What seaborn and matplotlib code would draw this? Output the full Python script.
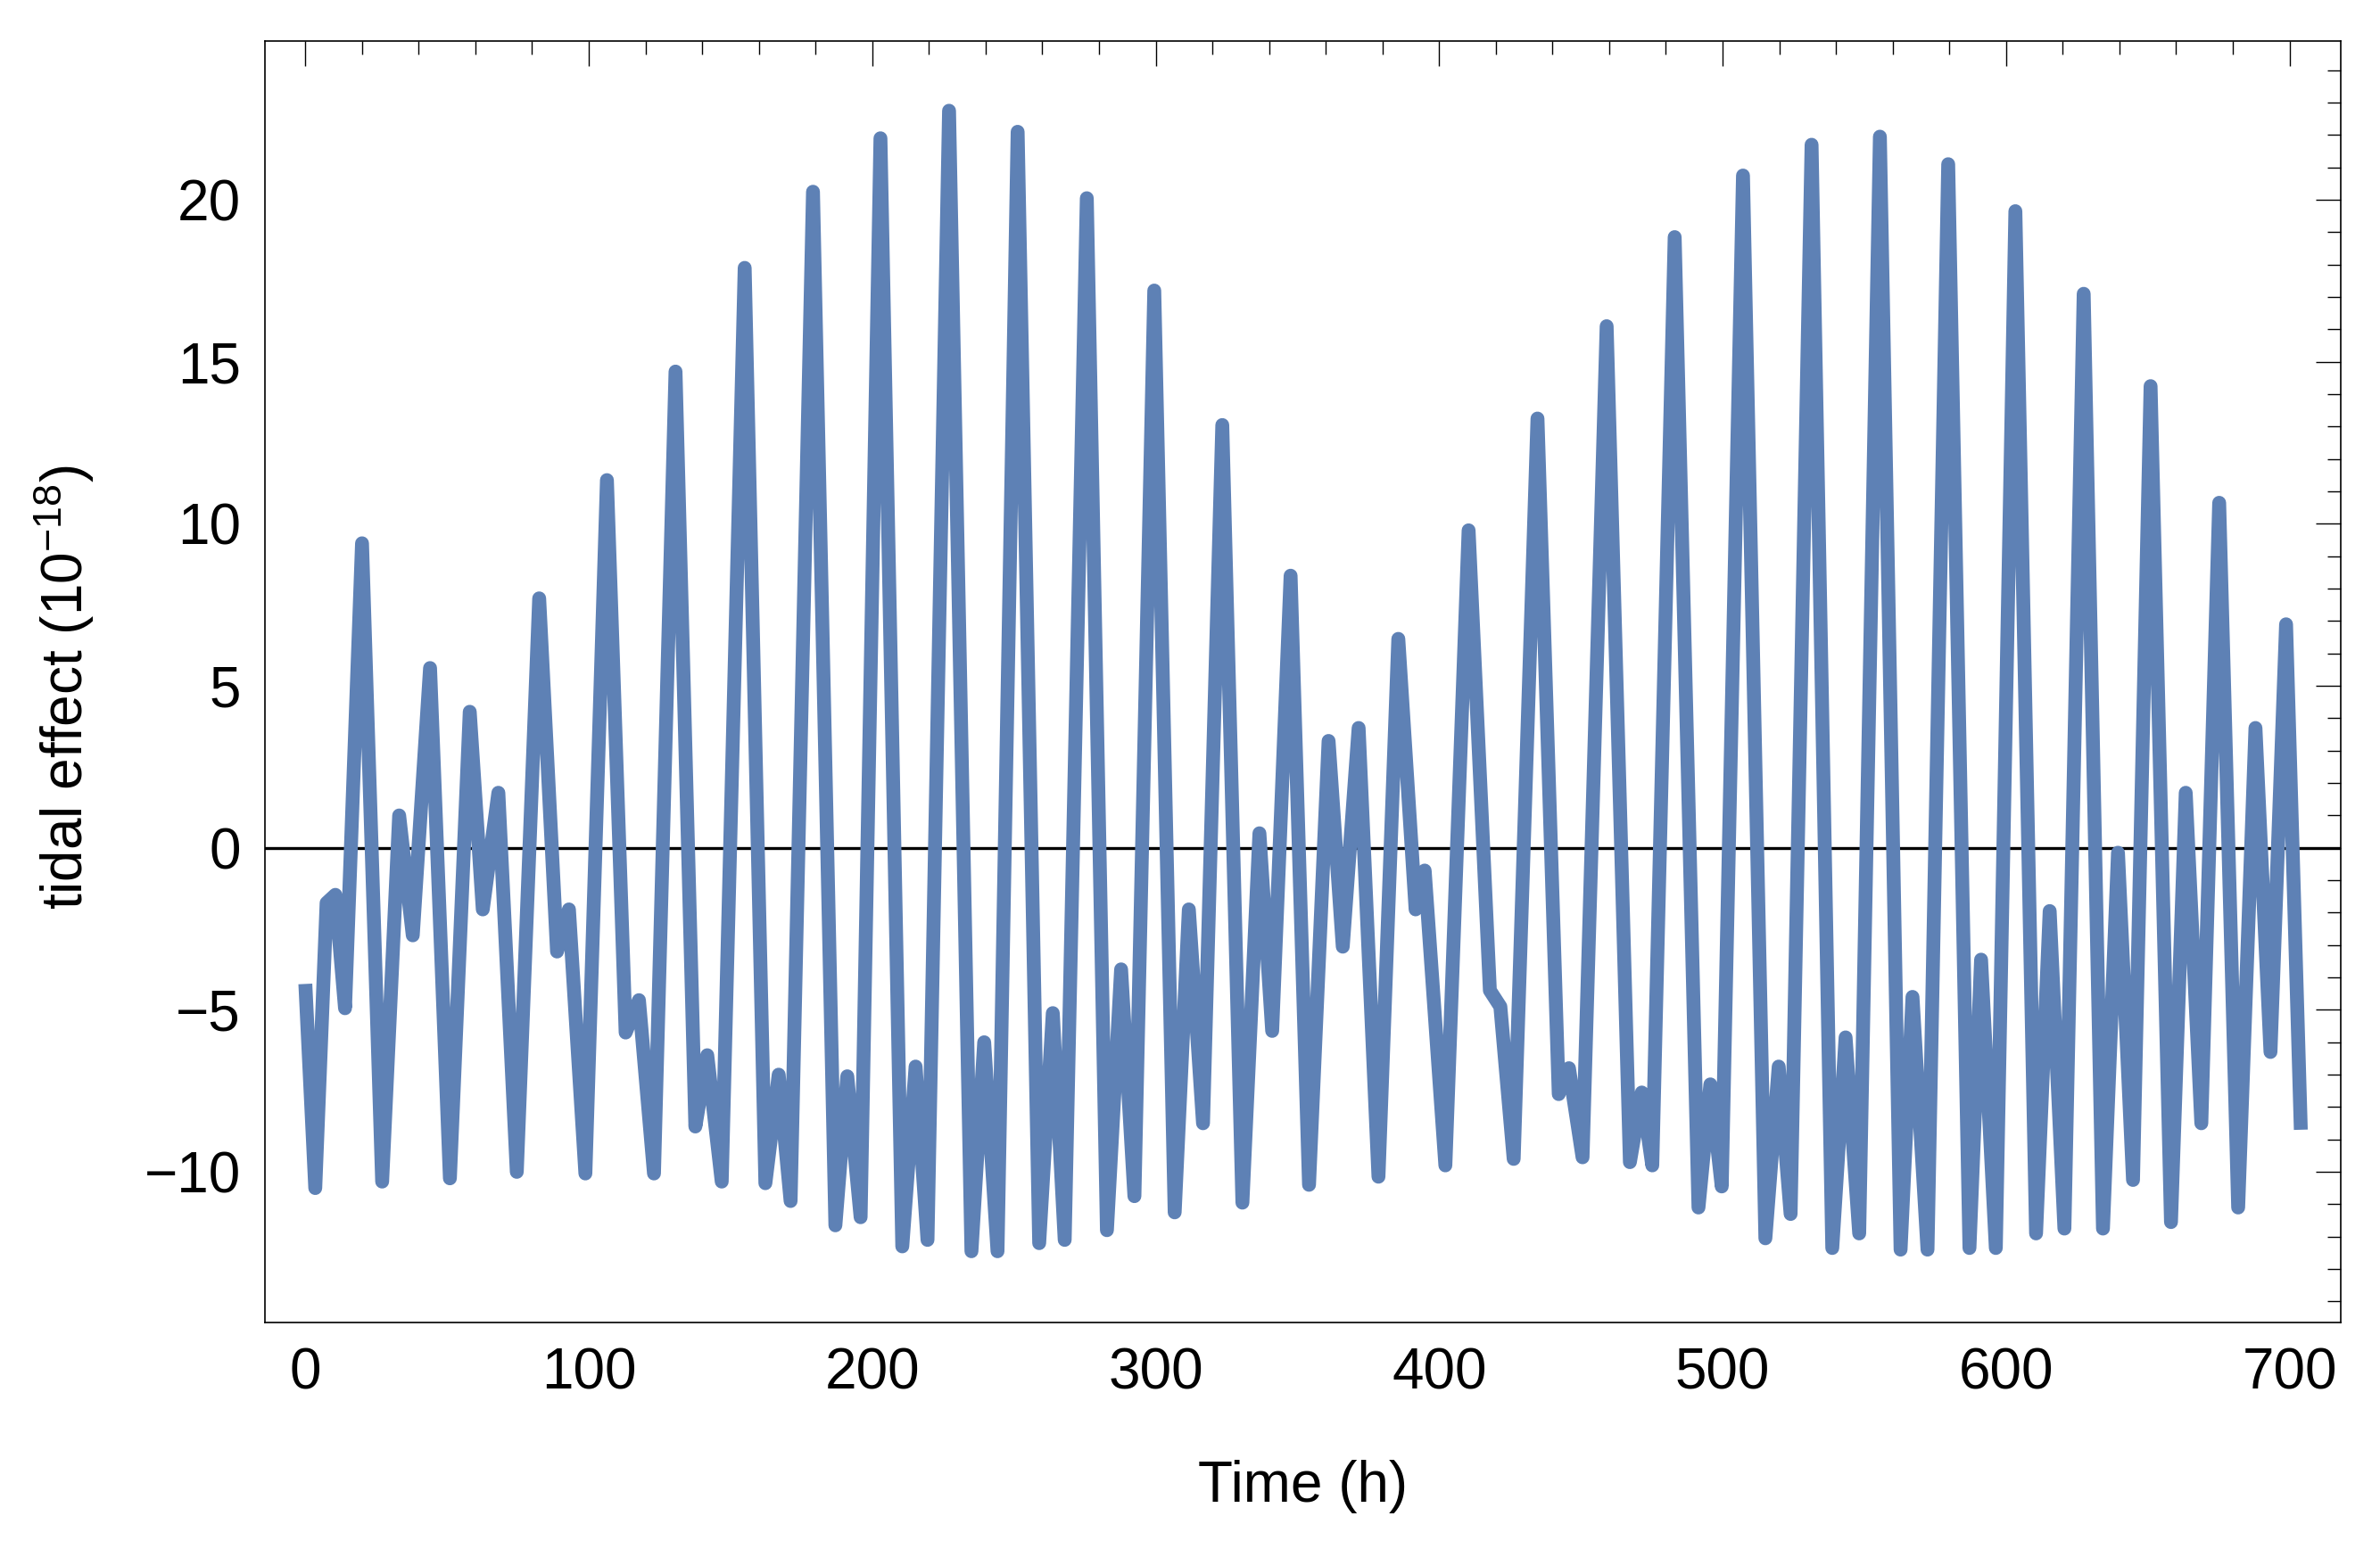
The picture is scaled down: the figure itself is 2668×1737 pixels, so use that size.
import seaborn as sns
import matplotlib.pyplot as plt
import pandas as pd
from matplotlib.ticker import MultipleLocator

# turning points of the curve (hours, 1e-18)
hours = [0.0, 3.5, 7.5, 10.6, 14.0, 20.0, 27.1, 33.1, 37.9, 44.0, 51.0, 58.0, 62.6, 68.1, 74.6, 82.5,
         88.8, 93.0, 98.8, 106.4, 113.0, 117.7, 123.0, 130.6, 137.6, 141.8, 146.9, 155.0, 162.3, 167.0, 171.2,
         179.1, 187.0, 191.2, 195.9, 202.9, 210.6, 215.3, 219.5, 227.1, 235.0, 239.5, 244.2, 251.3, 258.9, 263.7,
         267.9, 275.7, 282.8, 287.8, 292.5, 299.5, 306.7, 311.7, 316.7, 323.5, 330.6, 336.6, 341.1, 347.6, 354.1,
         361.0, 366.0, 371.6, 378.6, 385.6, 391.7, 394.9, 402.2, 410.4, 417.9, 421.6, 426.3, 434.7, 442.2,
         445.8, 450.6, 459.1, 467.3, 471.5, 475.2, 483.1, 491.5, 495.7, 499.7, 507.2, 515.1, 519.8, 524.0,
         531.4, 538.7, 543.4, 548.2, 555.5, 562.8, 567.0, 572.3, 579.6, 587.1, 591.2, 596.4, 603.3, 610.6, 615.4,
         620.6, 627.4, 634.2, 639.5, 644.8, 651.0, 658.2, 663.4, 668.9, 675.2, 681.9, 688.0, 693.3, 698.8, 704.0]
effect = [-4.2, -10.5, -1.7, -1.45, -4.95, 9.4, -10.3, 1.0, -2.7, 5.55, -10.2, 4.2, -1.9, 1.7, -10.0, 7.7,
          -3.2, -1.9, -10.05, 11.35, -5.7, -4.7, -10.05, 14.7, -8.6, -6.4, -10.3, 17.9, -10.35, -7.0, -10.9,
          20.25, -11.65, -7.05, -11.4, 21.9, -12.3, -6.75, -12.1, 22.75, -12.45, -6.0, -12.45, 22.1, -12.2, -5.1,
          -12.1, 20.05, -11.8, -3.75, -10.75, 17.2, -11.25, -1.9, -8.5, 13.05, -10.95, 0.45, -5.65, 8.4, -10.4,
          3.3, -3.05, 3.7, -10.15, 6.45, -1.9, -0.7, -9.8, 9.8, -4.4, -4.9, -9.6, 13.25, -7.6,
          -6.8, -9.55, 16.1, -9.7, -7.55, -9.8, 18.85, -11.1, -7.3, -10.45, 20.75, -12.05, -6.75, -11.3,
          21.7, -12.35, -5.85, -11.9, 21.95, -12.4, -4.6, -12.4, 21.1, -12.35, -3.45, -12.35, 19.65, -11.9, -1.95,
          -11.75, 17.1, -11.75, -0.15, -10.25, 14.25, -11.55, 1.7, -8.5, 10.65, -11.1, 3.7, -6.3, 6.9, -8.7]

df = pd.DataFrame({'hours': hours, 'effect': effect})

sns.set_style('white')
plt.rcParams['font.family'] = ['Liberation Sans', 'DejaVu Sans']
plt.rcParams['mathtext.fontset'] = 'custom'
plt.rcParams['mathtext.rm'] = 'Liberation Sans'
plt.rcParams['mathtext.it'] = 'Liberation Sans'
plt.rcParams['text.color'] = 'black'
plt.rcParams['axes.labelcolor'] = 'black'
plt.rcParams['xtick.color'] = 'black'
plt.rcParams['ytick.color'] = 'black'

fig = plt.figure(figsize=(13.34, 8.685), dpi=200)
ax = fig.add_axes([0.1115, 0.1462, 0.8719, 0.8273])

# zero line under the curve
ax.axhline(0, color='black', linewidth=1.2, zorder=1)
sns.lineplot(data=df, x='hours', y='effect', ax=ax, color='#5E81B5', linewidth=5.6,
             solid_joinstyle='round', solid_capstyle='butt', zorder=2)

ax.set_xlim(-14.1, 718)
ax.set_ylim(-14.65, 24.9)

ax.xaxis.set_major_locator(MultipleLocator(100))
ax.xaxis.set_minor_locator(MultipleLocator(20))
ax.yaxis.set_major_locator(MultipleLocator(5))
ax.yaxis.set_minor_locator(MultipleLocator(1))
ax.tick_params(which='both', direction='in', top=True, right=True, color='black', width=0.5)
ax.tick_params(which='major', length=10, labelsize=23, pad=10, labelcolor='black')
ax.tick_params(which='minor', length=5.5)

for s in ax.spines.values():
    s.set_linewidth(0.6)
    s.set_color('black')

ax.set_xlabel('Time (h)', fontsize=23, color='black')
ax.set_ylabel('tidal effect (10$^{-18}$)', fontsize=23, color='black')
ax.xaxis.set_label_coords(0.5, -0.107)
ax.yaxis.set_label_coords(-0.0815, 0.496)

fig.savefig('out.png', dpi=200)
